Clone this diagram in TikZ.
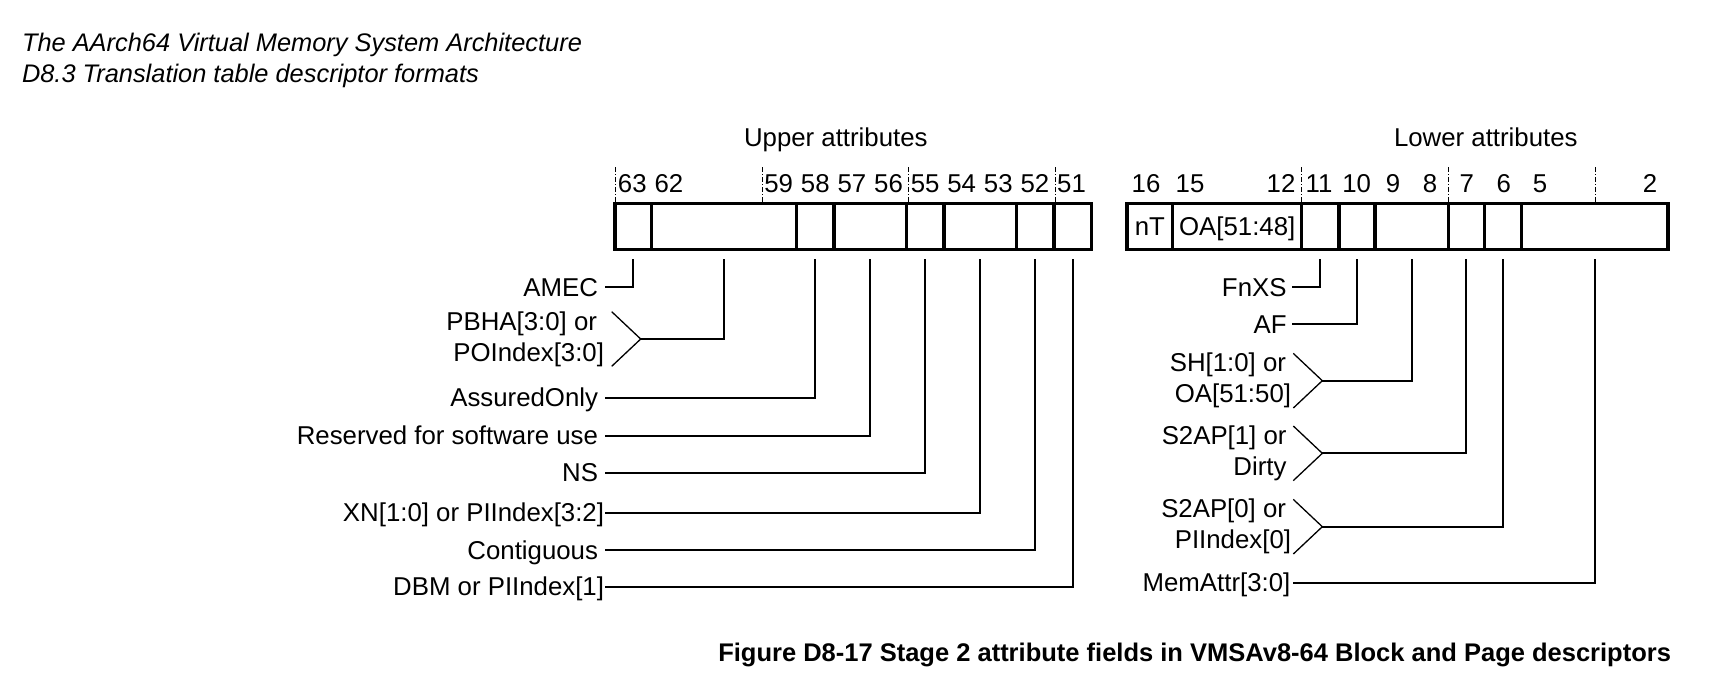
\documentclass[tikz,border=0pt]{standalone}
\usepackage{fontspec}
\setmainfont{Liberation Sans}
\usetikzlibrary{positioning}
\tikzset{
  txt/.style={font=\fontsize{12.9}{15.5}\selectfont, inner sep=0pt, outer sep=0pt},
  onel/.style={txt, text height=9.25pt, text depth=0pt},
  cell/.style={onel, draw, line width=1.75pt, minimum height=23pt,
    outer xsep=0pt, outer ysep=4.8pt, minimum width=#1*0.5pt},
  lbl/.style={onel, anchor=east, inner xsep=#1},
  lbl/.default=3.5pt,
  twol/.style={txt, align=right, anchor=east, inner xsep=#1},
  leader/.style={line width=1pt},
  brace/.style={line width=0.65pt},
  tick/.style={line width=0.5pt, dash pattern=on 2.5pt off 1pt on 0.5pt off 1pt}
}
\begin{document}
\begin{tikzpicture}[x=0.5pt,y=-0.5pt]
\fill[white] (0,0) rectangle (1712,698);
\useasboundingbox (0,0) rectangle (1712,698);
% headings
\node[txt, font=\itshape\fontsize{12.7}{15}\selectfont, anchor=base west] (title) at (22,51.5) {The AArch64 Virtual Memory System Architecture};
\node[txt, font=\itshape\fontsize{12.7}{15}\selectfont, anchor=base west] (section) at (22,82) {D8.3 Translation table descriptor formats};
\node[onel] (upper) at (835.8,137.3) {Upper attributes};
\node[onel] (lower) at (1485.8,137.3) {Lower attributes};
% upper attribute fields
\node[cell=36.7] (u63) at (633.35,226.3) {};
\node[cell=145, right=0pt of u63] (u62) {};
\node[cell=37.3, right=0pt of u62] (u58) {};
\node[cell=72.7, right=0pt of u58] (u57) {};
\node[cell=37.3, right=0pt of u57] (u55) {};
\node[cell=72.7, right=0pt of u55] (u54) {};
\node[cell=37.3, right=0pt of u54] (u52) {};
\node[cell=37.7, right=0pt of u52] (u51) {};
% lower attribute fields
\node[cell=45.7] (l16) at (1149.85,226.3) {nT};
\node[cell=129, right=0pt of l16] (l15) {OA[51:48]};
\node[cell=37.3, right=0pt of l15] (l11) {};
\node[cell=36, right=0pt of l11] (l10) {};
\node[cell=73.3, right=0pt of l10] (l9) {};
\node[cell=36, right=0pt of l9] (l7) {};
\node[cell=37.4, right=0pt of l7] (l6) {};
\node[cell=146.3, right=0pt of l6] (l5) {};
% bit numbers
\foreach \x in {615,762.3,908.3,1055,1301.7,1448.3,1595.7}
  \draw[tick] (\x,167) -- (\x,202);
\foreach \b in {63,62,59,58,57,56,55,54,53,52,51}
  \node[onel] (bit\b) at ({614+(63.5-\b)*36.6},183) {\b};
\foreach \b/\x in {16/1146,15/1190,12/1281,11/1319,10/1356.6,9/1393,8/1430,7/1466.7,6/1503.7,5/1540,2/1650}
  \node[onel] (bit\b) at (\x,183) {\b};
% upper labels
\node[lbl] (amec) at (605,287.3) {AMEC};
\node[twol=0.5pt] (pbha) at (605,339) {PBHA[3:0] or\kern3.5pt\\POIndex[3:0]};
\node[lbl] (assured) at (605,397.7) {AssuredOnly};
\node[lbl] (swuse) at (605,435.7) {Reserved for software use};
\node[lbl] (ns) at (605,472.7) {NS};
\node[lbl=0.5pt] (xn) at (605,512.7) {XN[1:0] or PIIndex[3:2]};
\node[lbl] (contig) at (605,550) {Contiguous};
\node[lbl=0.5pt] (dbm) at (605,586.7) {DBM or PIIndex[1]};
\coordinate[right=17.85pt of pbha] (pbhatip);
\draw[brace] ([shift={(-29,-27.3)}]pbhatip) -- (pbhatip) -- ++(-29,27.3);
\draw[leader] (amec.east) -| (u63.south);
\draw[leader] (pbhatip) -| (u62.south);
\draw[leader] (assured.east) -| (u58.south);
\draw[leader] (swuse.east) -| (u57.south);
\draw[leader] (ns.east) -| (u55.south);
\draw[leader] (xn.east) -| (u54.south);
\draw[leader] (contig.east) -| (u52.south);
\draw[leader] (dbm.east) -| (u51.south);
% lower labels
\node[lbl=2.75pt] (fnxs) at (1292,287.3) {FnXS};
\node[lbl=2.75pt] (af) at (1292,324.3) {AF};
\node[twol=0.5pt] (sh) at (1292,380.7) {SH[1:0] or\kern2.5pt\\OA[51:50]};
\node[twol=2.75pt] (s2apa) at (1292,453.3) {S2AP[1] or\\Dirty};
\node[twol=0.5pt] (s2apb) at (1292,526.7) {S2AP[0] or\kern2.5pt\\PIIndex[0]};
\node[lbl=1.5pt] (memattr) at (1293.3,582.7) {MemAttr[3:0]};
\coordinate[right=15.15pt of sh] (shtip);
\coordinate[right=15.15pt of s2apa] (s2apatip);
\coordinate[right=15.15pt of s2apb] (s2apbtip);
\foreach \t in {shtip,s2apatip,s2apbtip}
  \draw[brace] ([shift={(-29,-27.3)}]\t) -- (\t) -- ++(-29,27.3);
\draw[leader] (fnxs.east) -| (l11.south);
\draw[leader] (af.east) -| (l10.south);
\draw[leader] (shtip) -| (l9.south);
\draw[leader] (s2apatip) -| (l7.south);
\draw[leader] (s2apbtip) -| (l6.south);
\draw[leader] (memattr.east) -| (l5.south);
% caption
\node[txt, font=\bfseries\fontsize{12.75}{15}\selectfont, anchor=base east] (caption) at (1671,661.7) {Figure D8-17 Stage 2 attribute fields in VMSAv8-64 Block and Page descriptors};
\end{tikzpicture}
\end{document}
